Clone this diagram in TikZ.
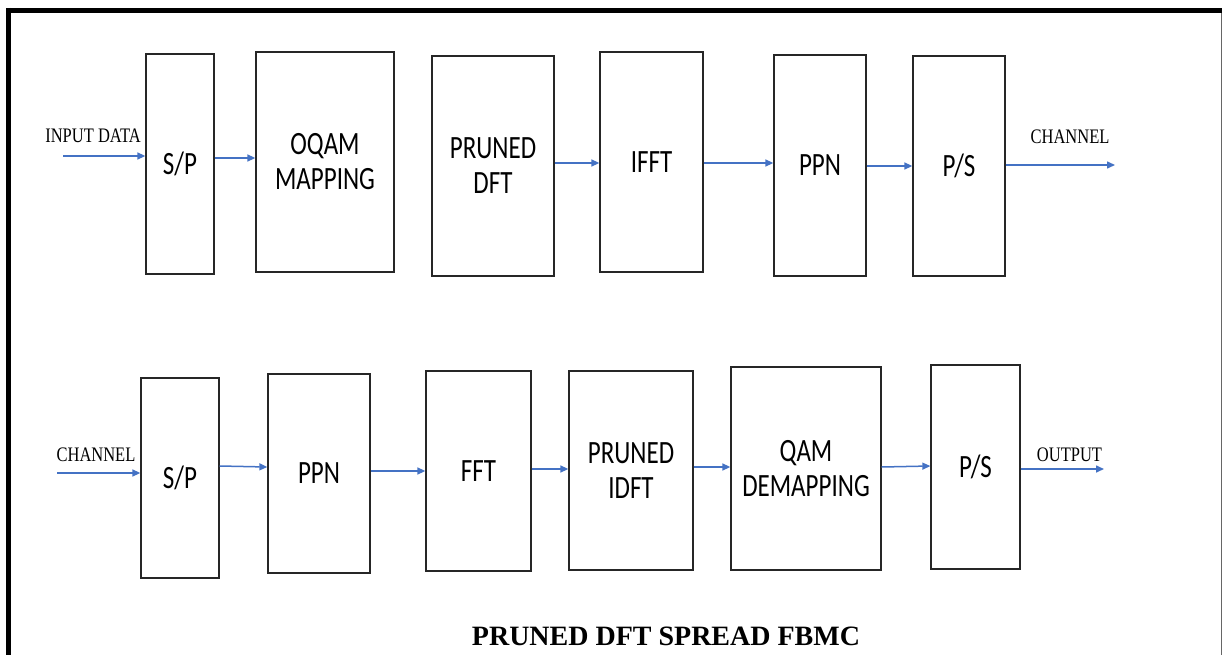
\documentclass[tikz,border=0pt]{standalone}
\usepackage{fontspec}
\setmainfont{Liberation Serif}
\newfontfamily\boxfont{Carlito}
\usetikzlibrary{arrows.meta}
\definecolor{arrblue}{HTML}{4472C4}
\newcommand{\bx}[1]{\scalebox{1}[1.3]{#1}}
\newcommand{\lx}[1]{\scalebox{1}[1.25]{#1}}
\tikzset{
  blk/.style={draw=black!85, line width=1.3pt, inner sep=0pt, align=center,
    font=\boxfont\fontsize{25}{35}\selectfont},
  arr/.style={draw=arrblue, line width=1.5pt, -{Triangle[length=8pt,width=7pt]}},
  lbl/.style={inner sep=0pt, anchor=base, font=\fontsize{16.5}{20}\selectfont},
}
\begin{document}
\begin{tikzpicture}[x=1pt, y=-1pt]
\useasboundingbox (0,0) rectangle (1222,655);
% frame
\draw[line width=5pt] (6,10.5) -- (1222,10.5);
\draw[line width=4.5pt] (8.3,8) -- (8.3,655);
\draw[black!60, line width=1pt] (1221.3,13) -- (1221.3,655);

% top row
\node[blk, minimum width=68, minimum height=220] (sp1) at (180,164) {\bx{S/P}};
\node[blk, minimum width=138, minimum height=220] (oqam) at (325,162) {\bx{OQAM}\\\bx{MAPPING}};
\node[blk, minimum width=122, minimum height=220] (pdft) at (493,166) {\bx{PRUNED}\\\bx{DFT}};
\node[blk, minimum width=103, minimum height=220] (ifft) at (651.5,162) {\bx{IFFT}};
\node[blk, minimum width=92, minimum height=221] (ppn1) at (820,165.5) {\bx{PPN}};
\node[blk, minimum width=92, minimum height=220] (ps1) at (959,166) {\bx{P/S}};

% bottom row
\node[blk, minimum width=78, minimum height=200] (sp2) at (180,478) {\bx{S/P}};
\node[blk, minimum width=102, minimum height=199] (ppn2) at (319,473.5) {\bx{PPN}};
\node[blk, minimum width=105, minimum height=200] (fft) at (478.5,471) {\bx{FFT}};
\node[blk, minimum width=124, minimum height=199] (pidft) at (631,470.5) {\bx{PRUNED}\\\bx{IDFT}};
\node[blk, minimum width=150, minimum height=203] (qam) at (806,468.5) {\bx{QAM}\\\bx{DEMAPPING}};
\node[blk, minimum width=89, minimum height=204] (ps2) at (975.5,467) {\bx{P/S}};

% free ends
\coordinate (in1) at (63,156);
\coordinate (out1) at (1115,165);
\coordinate (in2) at (57,473);
\coordinate (out2) at (1104,469);

% labels
\node[lbl] (lin1) at (93,143) {\lx{INPUT DATA}};
\node[lbl] (lout1) at (1070,143.3) {\lx{CHANNEL}};
\node[lbl] (lin2) at (96,461.5) {\lx{CHANNEL}};
\node[lbl] (lout2) at (1069.5,461.5) {\lx{OUTPUT}};
\node[inner sep=0pt, anchor=base, font=\bfseries\fontsize{28}{32}\selectfont] (title) at (666,645) {PRUNED DFT SPREAD FBMC};

% arrows top
\draw[arr] (in1) -- ([yshift=8pt]sp1.west);
\draw[arr] ([yshift=6pt]sp1.east) -- ([yshift=4pt]oqam.west);
\draw[arr] ([yshift=3pt]pdft.east) -- ([yshift=-1pt]ifft.west);
\draw[arr] ([yshift=-1pt]ifft.east) -- ([yshift=2.5pt]ppn1.west);
\draw[arr] ([yshift=-0.5pt]ppn1.east) -- (ps1.west);
\draw[arr] ([yshift=1pt]ps1.east) -- (out1);

% arrows bottom
\draw[arr] (in2) -- ([yshift=5pt]sp2.west);
\draw[arr] ([yshift=12pt]sp2.east) -- ([yshift=6.5pt]ppn2.west);
\draw[arr] ([yshift=2.5pt]ppn2.east) -- (fft.west);
\draw[arr] ([yshift=2pt]fft.east) -- ([yshift=1.5pt]pidft.west);
\draw[arr] ([yshift=3.5pt]pidft.east) -- ([yshift=1.5pt]qam.west);
\draw[arr] ([yshift=1.5pt]qam.east) -- ([yshift=1pt]ps2.west);
\draw[arr] ([yshift=-2pt]ps2.east) -- (out2);
\end{tikzpicture}
\end{document}
